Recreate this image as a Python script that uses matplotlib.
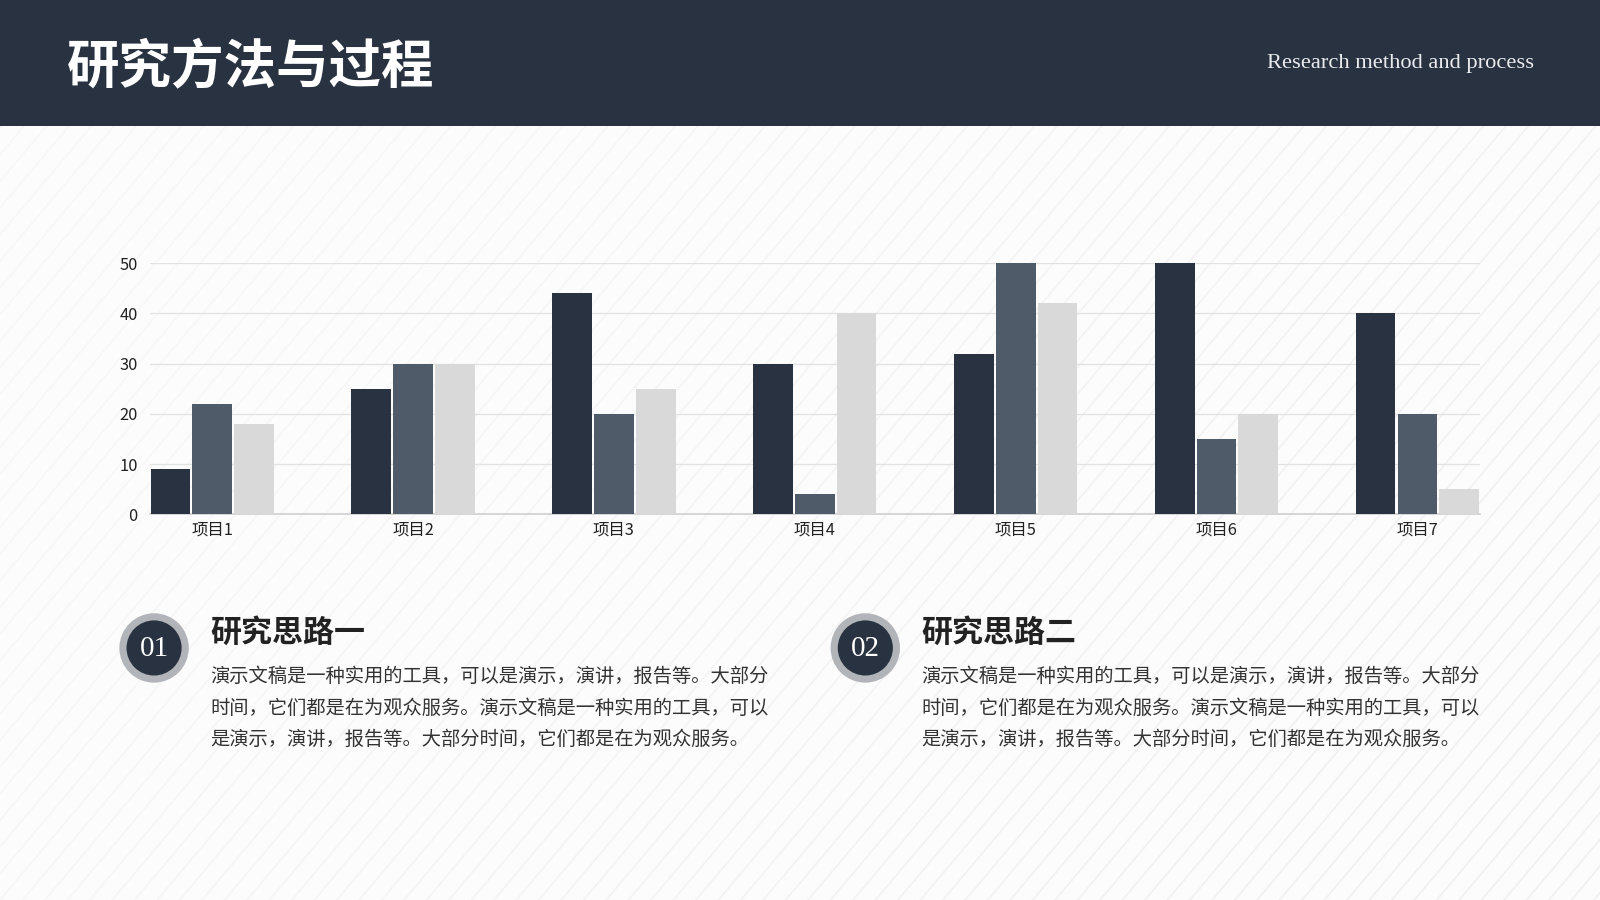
import matplotlib
matplotlib.use("Agg")
import matplotlib.pyplot as plt
from matplotlib.patches import Rectangle, Circle
import numpy as np

# ---------------- data ----------------
categories = ["项目1", "项目2", "项目3", "项目4", "项目5", "项目6", "项目7"]
series_a = [9, 25, 44, 30, 32, 50, 40]
series_b = [22, 30, 20, 4, 50, 15, 20]
series_c = [18, 30, 25, 40, 42, 20, 5]
y_ticks = [0, 10, 20, 30, 40, 50]

title_text = "研究方法与过程"
subtitle_text = "Research method and process"
sections = [
    ("01", "研究思路一", ["演示文稿是一种实用的工具，可以是演示，演讲，报告等。大部分",
                        "时间，它们都是在为观众服务。演示文稿是一种实用的工具，可以",
                        "是演示，演讲，报告等。大部分时间，它们都是在为观众服务。"]),
    ("02", "研究思路二", ["演示文稿是一种实用的工具，可以是演示，演讲，报告等。大部分",
                        "时间，它们都是在为观众服务。演示文稿是一种实用的工具，可以",
                        "是演示，演讲，报告等。大部分时间，它们都是在为观众服务。"]),
]

# ---------------- style ----------------
DARK = "#283240"
MID = "#4f5b69"
LIGHT = "#d9d9d9"
CJK = ["Noto Sans CJK SC", "DejaVu Sans"]
SERIF = ["Liberation Serif", "DejaVu Serif"]
plt.rcParams["font.family"] = CJK

W, H = 1568.0, 882.0  # reference pixel frame
fig = plt.figure(figsize=(16, 9), dpi=100)
fig.patch.set_facecolor("#fcfcfc")

# background / decoration axes in reference pixel coordinates
bg = fig.add_axes([0, 0, 1, 1])
bg.set_xlim(0, W)
bg.set_ylim(H, 0)
bg.axis("off")
bg.set_zorder(0)

# faint diagonal stripes (stronger toward the upper right)
for k in range(-40, 90):
    x0 = k * 22.0
    a = 0.25 + 0.45 * max(0.0, min(1.0, (x0 + 350) / 1600.0))
    bg.plot([x0, x0 + 700], [H, H - 830], color="#ececec", lw=1.3, alpha=a, zorder=0)

# header band
bg.add_patch(Rectangle((0, 0), W, 123, facecolor=DARK, edgecolor="none", zorder=2))
bg.text(66, 66, title_text, color="white", fontsize=37.8, fontweight="bold",
        ha="left", va="center", family=CJK, zorder=3)
bg.text(1503, 62, subtitle_text, color="#e8eaed", fontsize=16.2,
        ha="right", va="center", family=SERIF, zorder=3)

# bottom sections
for i, (num, head, lines) in enumerate(sections):
    cx = 151 + i * 697
    cy = 635
    bg.add_patch(Circle((cx, cy), 34, facecolor="#b1b4b9", edgecolor="none", zorder=2))
    bg.add_patch(Circle((cx, cy), 27, facecolor=DARK, edgecolor="none", zorder=3))
    bg.text(cx, cy + 1, num, color="white", fontsize=21, ha="center", va="center",
            family=SERIF, zorder=4)
    tx = 206 + i * 697
    bg.text(tx, 620, head, color="#222222", fontsize=22.3, fontweight="bold",
            ha="left", va="center", family=CJK, zorder=3)
    for j, ln in enumerate(lines):
        bg.text(tx, 663 + j * 31, ln, color="#333333", fontsize=13.9,
                ha="left", va="center", family=CJK, zorder=3)

# ---------------- chart ----------------
left, right, top, bottom = 147, 1450, 258, 504
ax = fig.add_axes([left / W, 1 - bottom / H, (right - left) / W, (bottom - top) / H])
ax.set_zorder(1)
ax.patch.set_alpha(0)

x = np.arange(len(categories))
bw = 39 / 197.0
off = 41 / 197.0
ax.bar(x - off, series_a, width=bw, color=DARK, zorder=3)
ax.bar(x, series_b, width=bw, color=MID, zorder=3)
ax.bar(x + off, series_c, width=bw, color=LIGHT, zorder=3)

half = 122 / 2 / 197.0
ax.set_xlim(-half, len(categories) - 1 + half)
ax.set_ylim(0, 50)
ax.set_yticks(y_ticks)
ax.set_xticks(x)
ax.set_xticklabels(categories)
ax.yaxis.grid(True, color="#e2e2e2", lw=0.9, zorder=0)
ax.set_axisbelow(True)
for s in ["top", "right", "left"]:
    ax.spines[s].set_visible(False)
ax.spines["bottom"].set_color("#cfcfcf")
ax.spines["bottom"].set_linewidth(1.2)
ax.tick_params(axis="both", length=0, labelsize=11.8, colors="#222222")
ax.tick_params(axis="y", pad=9)
ax.tick_params(axis="x", pad=5)
for lab in ax.get_xticklabels() + ax.get_yticklabels():
    lab.set_family(CJK)

fig.savefig("out.png", dpi=100, facecolor=fig.get_facecolor())
